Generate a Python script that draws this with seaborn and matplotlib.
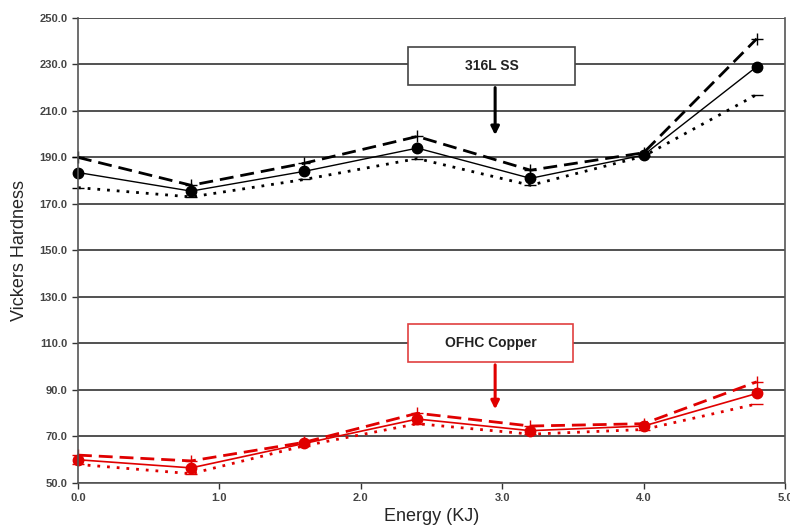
import seaborn as sns
import pandas as pd
import matplotlib.pyplot as plt
from matplotlib.patches import Rectangle

# energy levels (KJ)
energy = [0.0, 0.8, 1.6, 2.4, 3.2, 4.0, 4.8]

# 316L SS hardness
ss_mean = [183.5, 175.5, 184.0, 194.0, 181.0, 191.0, 229.0]
ss_upper = [190.0, 178.0, 187.5, 199.0, 184.5, 192.0, 241.0]
ss_lower = [177.0, 173.0, 180.5, 189.5, 178.0, 190.5, 217.0]

# OFHC copper hardness
cu_mean = [60.0, 56.5, 67.0, 77.5, 72.5, 74.5, 88.5]
cu_upper = [62.0, 59.5, 67.5, 80.0, 74.5, 75.5, 93.5]
cu_lower = [58.0, 54.0, 66.0, 75.5, 71.0, 73.0, 84.0]

sns.set_style("white")
plt.rcParams['font.family'] = ['Liberation Sans', 'DejaVu Sans']

fig = plt.figure(figsize=(7.9, 5.25), dpi=100)
ax = fig.add_axes([0.0987, 0.08, 0.895, 0.886])

series = [
    (ss_upper, "black", "+", 2.0, (5, 2.5)),
    (ss_mean, "black", "o", 1.0, None),
    (ss_lower, "black", "_", 2.0, (1, 2.5)),
    (cu_upper, "#e00000", "+", 2.0, (5, 2.5)),
    (cu_mean, "#e00000", "o", 1.2, None),
    (cu_lower, "#e00000", "_", 2.0, (1, 2.5)),
]
for vals, col, mk, lw, dash in series:
    df = pd.DataFrame({"energy": energy, "hv": vals})
    sns.lineplot(data=df, x="energy", y="hv", ax=ax, color=col,
                 linewidth=lw, marker=mk, markersize=7.5 if mk == "o" else 9,
                 markeredgewidth=1.0, markeredgecolor=col)
    l = ax.lines[-1]
    l.set_clip_on(False)
    if dash is not None:
        l.set_dashes(dash)

ax.set_xlim(0, 5)
ax.set_ylim(50, 250)
ax.set_xticks([0, 1, 2, 3, 4, 5])
ax.set_xticklabels([f"{v:.1f}" for v in [0, 1, 2, 3, 4, 5]])
ax.set_yticks(range(50, 251, 20))
ax.set_yticklabels([f"{v:.1f}" for v in range(50, 251, 20)])
ax.tick_params(axis="both", labelsize=8, length=4, width=1, color="#333333",
               direction="out", bottom=True, left=True)
for lbl in ax.get_xticklabels() + ax.get_yticklabels():
    lbl.set_fontweight("bold")
    lbl.set_color("#444444")
ax.yaxis.grid(True, color="#333333", linewidth=1.2)
for s in ax.spines.values():
    s.set_color("#555555")
    s.set_linewidth(1.2)
ax.spines["top"].set_visible(False)

ax.set_xlabel("Energy (KJ)", fontsize=13, labelpad=3)
ax.set_ylabel("Vickers Hardness", fontsize=13, labelpad=8)

# annotation boxes with arrows
ax.add_patch(Rectangle((2.334, 221.2), 1.181, 16.3, facecolor="white",
                       edgecolor="#444444", lw=1.2, zorder=5))
ax.text(2.93, 229.4, "316L SS", ha="center", va="center", fontsize=10,
        fontweight="bold", color="#222222", zorder=6)
ax.annotate("", xy=(2.95, 198.4), xytext=(2.95, 221.2),
            arrowprops=dict(arrowstyle="-|>", color="black", lw=2.2, mutation_scale=12),
            zorder=6)

ax.add_patch(Rectangle((2.334, 102.0), 1.167, 16.4, facecolor="white",
                       edgecolor="#e04040", lw=1.2, zorder=5))
ax.text(2.92, 110.2, "OFHC Copper", ha="center", va="center", fontsize=10,
        fontweight="bold", color="#222222", zorder=6)
ax.annotate("", xy=(2.95, 80.5), xytext=(2.95, 102.0),
            arrowprops=dict(arrowstyle="-|>", color="#e00000", lw=2.2, mutation_scale=12),
            zorder=6)

fig.savefig("out.png", dpi=100)
